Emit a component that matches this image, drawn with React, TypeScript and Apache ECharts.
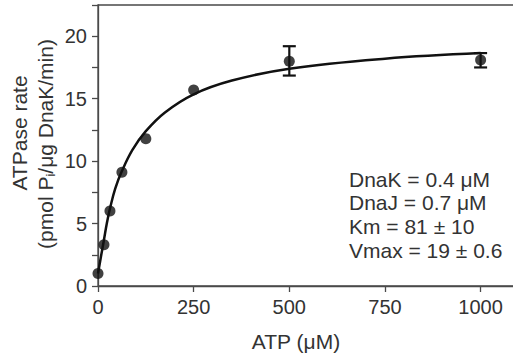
import React, { useEffect, useRef } from 'react';
import * as echarts from 'echarts';

// Measured data (ATP in µM, ATPase rate in pmol Pi/µg DnaK/min)
const atpValues = [0, 15.6, 31.25, 62.5, 125, 250, 500, 1000];
const rateValues = [1.0, 3.3, 6.0, 9.1, 11.8, 15.7, 18.0, 18.1];

// Error bars (only points with visible bars)
const errAtp = [500, 1000];
const errLow = [16.85, 17.5];
const errHigh = [19.2, 18.65];

// Fitted curve
const fitAtp = [0, 8, 15.6, 23, 31.25, 45, 62.5, 90, 125, 175, 250, 350, 500, 750, 1000];
const fitRate = [1.0, 2.4, 3.7, 5.0, 6.2, 7.8, 9.2, 10.9, 12.4, 13.9, 15.35, 16.45, 17.4, 18.2, 18.65];

const xTickLabels = [0, 250, 500, 750, 1000];
const yTickLabels = [0, 5, 10, 15, 20];

const notes = ['DnaK = 0.4 μM', 'DnaJ = 0.7 μM', 'Km = 81 ± 10', 'Vmax = 19 ± 0.6'];

const FONT = "'Liberation Sans', Arial, Helvetica, sans-serif";
const TEXT = '#333333';
const AXIS = '#4a4a4a';
const FS_TICK = 20;
const FS_TITLE = 21;
const FS_NOTE = 21;

export default function App() {
  const ref = useRef<HTMLDivElement>(null);

  useEffect(() => {
    if (!ref.current) return;
    const chart = echarts.init(ref.current, undefined, { renderer: 'svg' });

    const points = atpValues.map((x, i) => [x, rateValues[i]]);
    const fit = fitAtp.map((x, i) => [x, fitRate[i]]);
    const errs = errAtp.map((x, i) => [x, errLow[i], errHigh[i]]);

    chart.setOption({
      animation: false,
      grid: {
        left: 98,
        right: 0,
        top: 5,
        bottom: 70,
        show: true,
        borderColor: AXIS,
        borderWidth: 1.3,
        backgroundColor: 'transparent',
      },
      xAxis: {
        type: 'value',
        min: 0,
        max: 1150,
        interval: 250,
        axisLine: { show: true, lineStyle: { color: AXIS, width: 1.3 } },
        axisTick: { show: true, inside: false, length: 6, lineStyle: { color: AXIS, width: 1.3 } },
        axisLabel: {
          color: TEXT,
          fontSize: FS_TICK,
          fontFamily: FONT,
          margin: 11,
          showMaxLabel: false,
          formatter: (v: number) => (xTickLabels.includes(v) ? String(v) : ''),
        },
        splitLine: { show: false },
      },
      yAxis: {
        type: 'value',
        min: 0,
        max: 22.5,
        interval: 2.5,
        axisLine: { show: true, lineStyle: { color: AXIS, width: 1.3 } },
        axisTick: { show: true, inside: false, length: 6, lineStyle: { color: AXIS, width: 1.3 } },
        axisLabel: {
          color: TEXT,
          fontSize: FS_TICK,
          fontFamily: FONT,
          margin: 11,
          formatter: (v: number) => (yTickLabels.includes(v) ? String(v) : ''),
        },
        splitLine: { show: false },
      },
      series: [
        {
          type: 'line',
          data: fit,
          smooth: 0.4,
          showSymbol: false,
          symbol: 'none',
          lineStyle: { color: '#111111', width: 2.5 },
          z: 2,
        },
        {
          type: 'custom',
          data: errs,
          z: 3,
          renderItem: (params: any, api: any) => {
            const x = api.value(0);
            const lo = api.coord([x, api.value(1)]);
            const hi = api.coord([x, api.value(2)]);
            const cx = lo[0];
            const w = 6.5;
            const style = { stroke: '#111111', lineWidth: 2.2 };
            return {
              type: 'group',
              children: [
                { type: 'line', shape: { x1: cx, y1: lo[1], x2: cx, y2: hi[1] }, style },
                { type: 'line', shape: { x1: cx - w, y1: lo[1], x2: cx + w, y2: lo[1] }, style },
                { type: 'line', shape: { x1: cx - w, y1: hi[1], x2: cx + w, y2: hi[1] }, style },
              ],
            };
          },
        },
        {
          type: 'scatter',
          data: points,
          symbol: 'circle',
          symbolSize: 11,
          itemStyle: { color: '#111111' },
          z: 4,
        },
      ],
      graphic: [
        {
          type: 'text',
          x: 19,
          y: 133,
          rotation: Math.PI / 2,
          style: {
            text: 'ATPase rate',
            fill: TEXT,
            font: `${FS_TITLE}px ${FONT}`,
            align: 'center',
            verticalAlign: 'middle',
          },
        },
        {
          type: 'text',
          x: 45,
          y: 144,
          rotation: Math.PI / 2,
          style: {
            text: '{a|(pmol P}{s|i}{a|/μg DnaK/min)}',
            align: 'center',
            verticalAlign: 'middle',
            rich: {
              a: { fill: TEXT, fontSize: FS_TITLE, fontFamily: FONT, lineHeight: 24 },
              s: { fill: TEXT, fontSize: 13, fontFamily: FONT, lineHeight: 24, verticalAlign: 'bottom', padding: [9, 0, 0, 0] },
            },
          },
        },
        {
          type: 'text',
          x: 296,
          y: 341,
          style: {
            text: 'ATP (μM)',
            fill: TEXT,
            font: `${FS_TITLE}px ${FONT}`,
            align: 'center',
            verticalAlign: 'middle',
          },
        },
        ...notes.map((t, i) => ({
          type: 'text',
          x: 349,
          y: 179 + i * 23.8,
          style: {
            text: t,
            fill: TEXT,
            font: `${FS_NOTE}px ${FONT}`,
            align: 'left',
            verticalAlign: 'middle',
          },
        })),
      ],
    });

    return () => chart.dispose();
  }, []);

  return (
    <div style={{ position: 'fixed', left: 0, top: 0, width: 513, height: 356, overflow: 'hidden', background: '#fff' }}>
      <div ref={ref} style={{ width: 538, height: 356 }} />
    </div>
  );
}
